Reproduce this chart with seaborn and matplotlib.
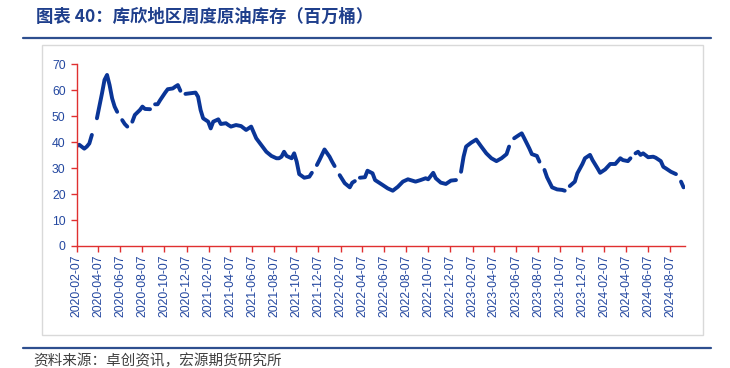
import numpy as np
import pandas as pd
import seaborn as sns
import matplotlib
matplotlib.use("Agg")
import matplotlib.pyplot as plt
from matplotlib.patches import Rectangle
from matplotlib.lines import Line2D

# Weekly Cushing crude stocks (million barrels), NaN = missing week (line gap)
dates = [
    "2020-02-07", "2020-02-14", "2020-02-28", "2020-03-06", "2020-03-13", "2020-03-20",
    "2020-03-27", "2020-04-03", "2020-04-17", "2020-04-24", "2020-05-01", "2020-05-08",
    "2020-05-15", "2020-05-22", "2020-05-29", "2020-06-05", "2020-06-12", "2020-06-19",
    "2020-06-26", "2020-07-03", "2020-07-10", "2020-07-17", "2020-07-31", "2020-08-07",
    "2020-08-14", "2020-08-28", "2020-09-04", "2020-09-11", "2020-09-18", "2020-09-25",
    "2020-10-09", "2020-10-16", "2020-10-30", "2020-11-06", "2020-11-13", "2020-11-20",
    "2020-11-27", "2020-12-04", "2021-01-01", "2021-01-08", "2021-01-15", "2021-01-22",
    "2021-02-05", "2021-02-12", "2021-02-19", "2021-03-05", "2021-03-12", "2021-03-26",
    "2021-04-02", "2021-04-09", "2021-04-23", "2021-05-07", "2021-05-21", "2021-06-04",
    "2021-06-18", "2021-07-02", "2021-07-16", "2021-07-30", "2021-08-13", "2021-08-20",
    "2021-08-27", "2021-09-03", "2021-09-10", "2021-09-24", "2021-10-01", "2021-10-08",
    "2021-10-15", "2021-10-29", "2021-11-12", "2021-11-19", "2021-11-26", "2021-12-03",
    "2021-12-10", "2021-12-24", "2022-01-07", "2022-01-14", "2022-01-21", "2022-01-28",
    "2022-02-04", "2022-02-18", "2022-03-04", "2022-03-11", "2022-03-18", "2022-03-25",
    "2022-04-01", "2022-04-15", "2022-04-22", "2022-05-06", "2022-05-13", "2022-06-03",
    "2022-06-17", "2022-07-01", "2022-07-15", "2022-07-29", "2022-08-12", "2022-08-19",
    "2022-09-02", "2022-09-16", "2022-09-30", "2022-10-07", "2022-10-21", "2022-10-28",
    "2022-11-11", "2022-11-25", "2022-12-09", "2022-12-23", "2022-12-30", "2023-01-06",
    "2023-01-13", "2023-01-20", "2023-02-03", "2023-02-17", "2023-03-03", "2023-03-17",
    "2023-03-31", "2023-04-14", "2023-04-28", "2023-05-12", "2023-05-19", "2023-05-26",
    "2023-06-02", "2023-06-16", "2023-06-23", "2023-06-30", "2023-07-14", "2023-07-21",
    "2023-08-04", "2023-08-11", "2023-08-18", "2023-08-25", "2023-09-01", "2023-09-15",
    "2023-09-29", "2023-10-13", "2023-10-20", "2023-10-27", "2023-11-03", "2023-11-17",
    "2023-11-24", "2023-12-08", "2023-12-15", "2023-12-29", "2024-01-05", "2024-01-19",
    "2024-01-26", "2024-02-09", "2024-02-23", "2024-03-08", "2024-03-22", "2024-03-29",
    "2024-04-12", "2024-04-19", "2024-04-26", "2024-05-03", "2024-05-10", "2024-05-17",
    "2024-05-24", "2024-06-07", "2024-06-21", "2024-06-28", "2024-07-12", "2024-07-19",
    "2024-07-26", "2024-08-09", "2024-08-23", "2024-08-30", "2024-09-06", "2024-09-13",
]
stocks = [
    38.5, 39.0, 37.5, 38.3, 39.5, 42.8,
    np.nan, 49.2, 58.8, 64.0, 65.9, 62.0,
    56.9, 53.7, 51.7, np.nan, 48.5, 47.0,
    46.0, np.nan, 47.9, 50.5, 52.4, 53.7,
    52.8, 52.7, np.nan, 54.6, 54.6, 56.2,
    59.1, 60.4, 60.7, 61.4, 62.0, 59.8,
    np.nan, 58.6, 59.1, 57.5, 52.4, 49.2,
    47.9, 45.3, 47.9, 48.8, 47.0, 47.3,
    46.6, 46.0, 46.6, 46.2, 44.7, 46.0,
    41.5, 38.9, 36.3, 34.7, 33.8, 33.8,
    34.4, 36.3, 34.7, 33.8, 35.7, 32.5,
    27.7, 26.3, 26.7, 28.2, np.nan, 31.2,
    33.1, 37.2, 34.4, 32.5, 30.8, np.nan,
    27.3, 24.2, 22.6, 24.4, 25.0, np.nan,
    26.3, 26.5, 29.0, 28.0, 25.4, 23.5,
    22.2, 21.3, 22.8, 24.8, 25.7, 25.4,
    24.8, 25.4, 26.1, 25.7, 28.2, 26.1,
    24.4, 23.9, 25.2, 25.4, np.nan, 28.6,
    34.4, 38.3, 39.8, 41.0, 38.3, 35.7,
    33.8, 32.7, 33.8, 35.4, 38.3, np.nan,
    41.5, 42.8, 43.4, 41.5, 37.6, 35.4,
    34.7, 32.5, np.nan, 29.3, 26.5, 22.6,
    21.8, 21.6, 21.3, np.nan, 23.1, 24.8,
    28.0, 31.6, 33.8, 35.1, 33.1, 29.9,
    28.2, 29.5, 31.6, 31.6, 33.8, 33.1,
    32.7, 33.8, np.nan, 35.7, 36.3, 35.1,
    35.7, 34.2, 34.4, 34.0, 32.7, 30.5,
    29.9, 28.6, 27.7, np.nan, 24.8, 22.6,
]

title = "图表 40：库欣地区周度原油库存（百万桶）"
source = "资料来源：卓创资讯，宏源期货研究所"

df = pd.DataFrame({"date": pd.to_datetime(dates), "stock": stocks})
# split into segments at missing weeks so the line breaks there
df["seg"] = df["stock"].isna().cumsum()
df = df.dropna()

sns.set_style("white")
plt.rcParams["font.family"] = ["Liberation Sans", "Noto Sans CJK SC", "DejaVu Sans"]

W, H = 730, 368
fig = plt.figure(figsize=(W / 100, H / 100), dpi=100)

# outer decorations: title, rules, gray frame, source
fig.text(36 / W, 1 - 17 / H, title, fontsize=12.5, fontweight="bold", color="#1f3f8c",
         family=["Noto Sans CJK SC"], va="center", ha="left")
fig.add_artist(Line2D([23 / W, 711 / W], [1 - 38 / H, 1 - 38 / H], color="#2e4f8f", lw=1.6))
fig.add_artist(Rectangle((42 / W, 1 - 335 / H), (703 - 42) / W, (335 - 45) / H,
                         fill=False, edgecolor="#d9d9d9", lw=1.0))
fig.add_artist(Line2D([23 / W, 711 / W], [1 - 348 / H, 1 - 348 / H], color="#2e4f8f", lw=1.6))
fig.text(33 / W, 1 - 361 / H, source, fontsize=10.5, color="#404040", style="italic",
         family=["Noto Sans CJK SC"], va="center", ha="left")

ax = fig.add_axes([76.7 / W, 1 - 246 / H, (685 - 76.7) / W, (246 - 64.3) / H])
sns.lineplot(data=df, x="date", y="stock", units="seg", estimator=None,
             color="#0a3597", lw=2.8, ax=ax)

ax.set_ylim(0, 70)
ax.set_yticks(range(0, 71, 10))
ax.set_xlim(pd.Timestamp("2020-02-07"), pd.Timestamp("2024-09-17"))
ticks = pd.date_range("2020-02-07", "2024-08-07", freq=pd.DateOffset(months=2))
ax.set_xticks(ticks)
ax.set_xticklabels([t.strftime("%Y-%m-%d") for t in ticks], rotation=90)
ax.set_xlabel("")
ax.set_ylabel("")

for s in ["top", "right"]:
    ax.spines[s].set_visible(False)
for s in ["left", "bottom"]:
    ax.spines[s].set_color("#e03030")
    ax.spines[s].set_linewidth(1.0)
ax.tick_params(axis="both", which="major", direction="out", length=4, width=1.0,
               bottom=True, left=True, color="#e03030", labelcolor="#2448a0",
               labelsize=8.8, pad=2)
ax.tick_params(axis="y", pad=4)
ax.set_facecolor("none")

fig.savefig("out.png", dpi=100)
